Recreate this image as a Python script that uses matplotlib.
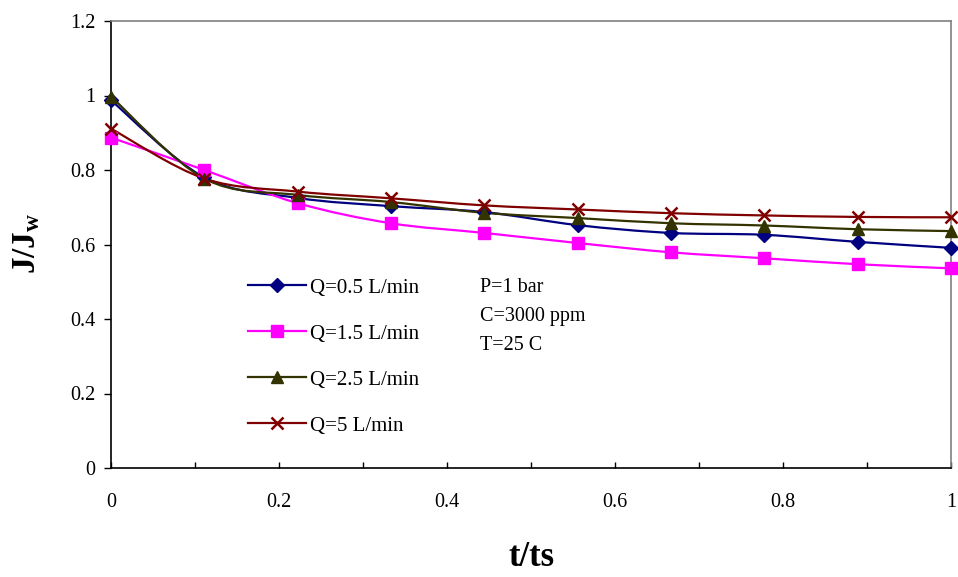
import matplotlib
matplotlib.use("Agg")
import matplotlib.pyplot as plt
from matplotlib.path import Path
from matplotlib.patches import PathPatch
from matplotlib.lines import Line2D
from matplotlib.ticker import MultipleLocator, FuncFormatter

plt.rcParams['font.family'] = ['Liberation Serif', 'DejaVu Serif']
plt.rcParams['mathtext.fontset'] = 'custom'
plt.rcParams['mathtext.rm'] = 'Liberation Serif'
plt.rcParams['mathtext.bf'] = 'Liberation Serif:bold'
plt.rcParams['mathtext.it'] = 'Liberation Serif:italic'

# ---- data ----
t_ts = [0, 1/9, 2/9, 3/9, 4/9, 5/9, 6/9, 7/9, 8/9, 1]
q05 = [0.987, 0.780, 0.725, 0.703, 0.687, 0.652, 0.631, 0.626, 0.607, 0.591]
q15 = [0.887, 0.800, 0.711, 0.657, 0.631, 0.604, 0.579, 0.563, 0.547, 0.536]
q25 = [0.997, 0.777, 0.733, 0.714, 0.685, 0.671, 0.657, 0.651, 0.641, 0.636]
q5 = [0.911, 0.777, 0.742, 0.724, 0.705, 0.694, 0.684, 0.678, 0.674, 0.673]
labels = ['Q=0.5 L/min', 'Q=1.5 L/min', 'Q=2.5 L/min', 'Q=5 L/min']
notes = ['P=1 bar', 'C=3000 ppm', 'T=25 C']
xticks = [0, 0.2, 0.4, 0.6, 0.8, 1]
yticks = [0, 0.2, 0.4, 0.6, 0.8, 1, 1.2]

series = [q05, q15, q25, q5]
colors = ['#000080', '#FF00FF', '#333300', '#800000']
markers = ['D', 's', '^', 'x']
msizes = [7, 8, 8.5, 9]

fig = plt.figure(figsize=(9.58, 5.77), dpi=100)
ax = fig.add_axes([111/958, 1-468/577, (951-111)/958, (468-21)/577])


def smooth_path(x, y):
    n = len(x)
    verts = [(x[0], y[0])]
    codes = [Path.MOVETO]
    for i in range(n - 1):
        x0, y0 = (x[i-1], y[i-1]) if i > 0 else (x[i], y[i])
        x1, y1 = x[i], y[i]
        x2, y2 = x[i+1], y[i+1]
        x3, y3 = (x[i+2], y[i+2]) if i + 2 < n else (x2, y2)
        c1 = (x1 + (x2 - x0)/6, y1 + (y2 - y0)/6)
        c2 = (x2 - (x3 - x1)/6, y2 - (y3 - y1)/6)
        verts += [c1, c2, (x2, y2)]
        codes += [Path.CURVE4]*3
    return Path(verts, codes)


handles = []
for ys, c, m, ms, lab in zip(series, colors, markers, msizes, labels):
    patch = PathPatch(smooth_path(t_ts, ys), fill=False, edgecolor=c, lw=1.6, zorder=2)
    ax.add_patch(patch)
    mew = 1.8 if m == 'x' else 1.0
    ax.plot(t_ts, ys, linestyle='none', marker=m, color=c, markersize=ms,
            markeredgewidth=mew, clip_on=False, zorder=3)
    handles.append(Line2D([], [], color=c, lw=1.6, marker=m, markersize=ms,
                          markeredgewidth=mew, label=lab))

ax.set_xlim(0, 1)
ax.set_ylim(0, 1.2)
ax.set_xticks(xticks)
ax.xaxis.set_minor_locator(MultipleLocator(0.1))
ax.set_yticks(yticks)
fmt = FuncFormatter(lambda v, p: f'{v:g}')
ax.xaxis.set_major_formatter(fmt)
ax.yaxis.set_major_formatter(fmt)

ax.tick_params(axis='x', which='both', direction='in', length=4, width=1,
               labelsize=14.5, pad=18)
ax.tick_params(axis='y', which='major', direction='out', length=5, width=1,
               labelsize=14.5, pad=6)
for s in ['left', 'bottom']:
    ax.spines[s].set_color('black')
    ax.spines[s].set_linewidth(1.2)
for s in ['top', 'right']:
    ax.spines[s].set_color('#808080')
    ax.spines[s].set_linewidth(1.2)

leg = ax.legend(handles=handles, loc='upper left',
                bbox_to_anchor=(248/958, 1-278/577), bbox_transform=fig.transFigure,
                frameon=False, fontsize=15, borderpad=0, borderaxespad=0,
                handlelength=2.8, handletextpad=0.2, labelspacing=1.27)

for i, note in enumerate(notes):
    fig.text(480/958, 1-(288 + i*28.5)/577, note, fontsize=14.5, ha='left', va='center')

fig.text(532/958, 1-558/577, 't/ts', fontsize=25, fontweight='bold',
         ha='center', va='center')
fig.text(27/958, 1-243/577, r'$\mathbf{J/J}_{\mathbf{w}}$', fontsize=24,
         rotation=90, ha='center', va='center')

fig.savefig('out.png', dpi=100)
